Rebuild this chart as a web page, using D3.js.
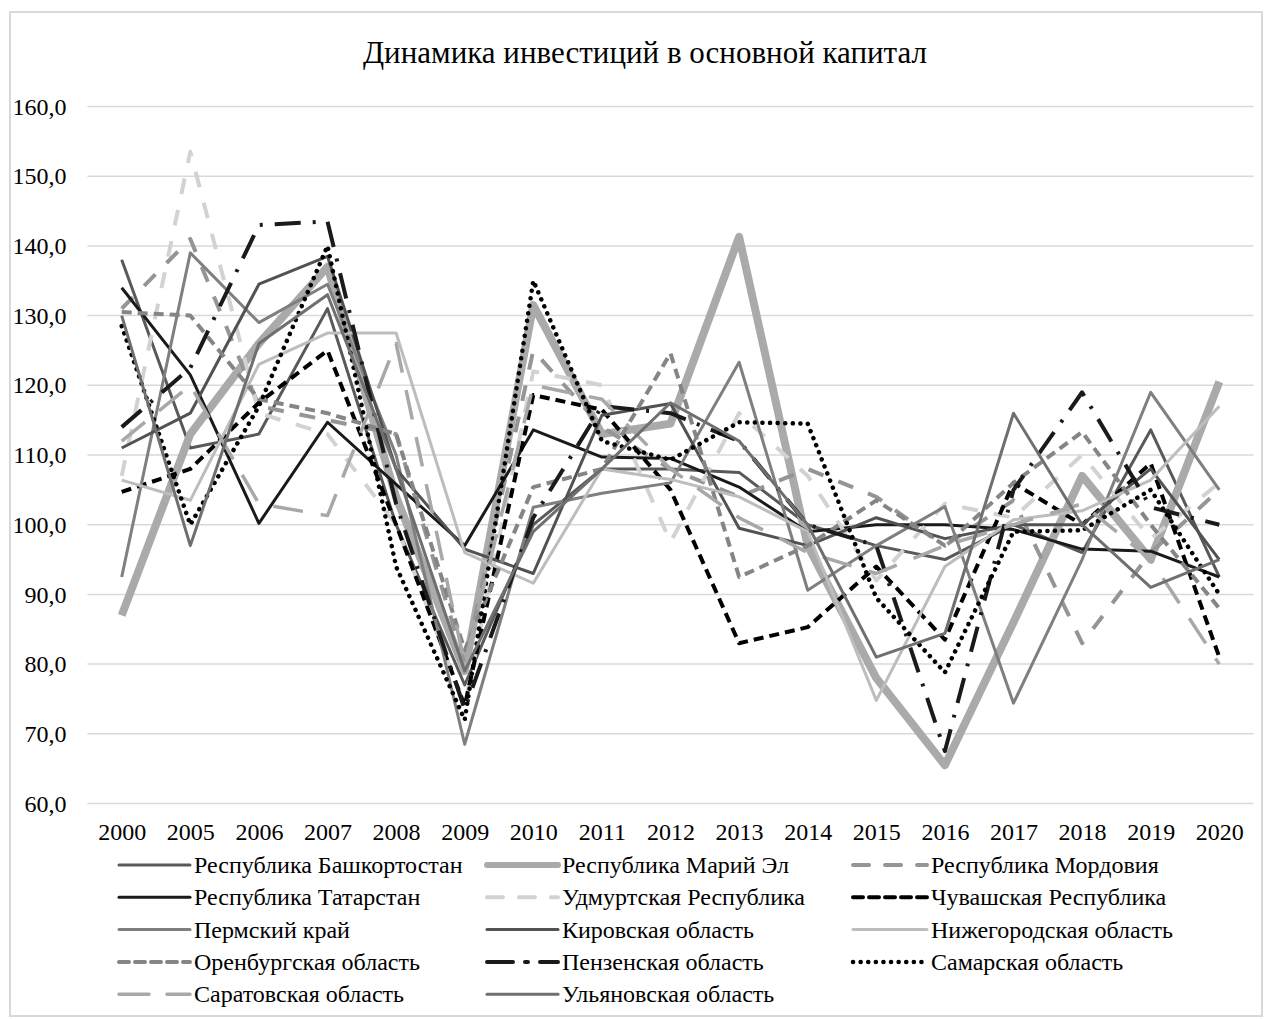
<!DOCTYPE html>
<html>
<head>
<meta charset="utf-8">
<script src="https://cdn.jsdelivr.net/npm/d3@7"></script>
<style>
  body { margin: 0; background: #fff; }
  svg text { font-family: "Liberation Serif", "Times New Roman", serif; fill: #000; }
</style>
</head>
<body>
<svg id="chart"></svg>
<script>
// years on the x axis
const years = ['2000','2005','2006','2007','2008','2009','2010','2011','2012','2013','2014','2015','2016','2017','2018','2019','2020'];
const yTicks = [60, 70, 80, 90, 100, 110, 120, 130, 140, 150, 160];

// values (per cent to previous year)
const bashkortostan = [138, 111, 113, 131, 100, 77, 100, 108, 108, 107.5, 100, 97, 95, 100, 96, 113.6, 92.5];
const mariiEl       = [87, 113, 126, 137, 104, 79, 131.5, 113, 114.5, 141.3, 97, 78, 65.5, 86, 107, 95, 120.5];
const mordovia      = [131, 141, 117, 115, 113, 80, 125, 114, 108, 104, 108, 104, 97, 103.5, 83, 96, 105];
const tatarstan     = [134, 121.5, 100.2, 114.7, 105.8, 97, 113.6, 109.7, 109.5, 105.4, 99, 100, 100, 99.3, 96.5, 96.2, 92.5];
const udmurtia      = [107, 153.5, 116, 113, 100, 74, 122, 120, 97.5, 116, 107, 92, 103, 101, 110, 98, 106];
const chuvashia     = [104.7, 108, 117.5, 125, 100, 74, 118.6, 116.5, 105, 83, 85.3, 94, 83.5, 106, 100, 108.8, 81];
const perm          = [92.5, 139, 129, 134.5, 110, 68.5, 102.5, 104.5, 106, 123.3, 90.6, 97, 102.6, 74.4, 95, 119, 105];
const kirov         = [111, 116, 134.5, 138.5, 108, 96.5, 93, 115.7, 117.4, 99.5, 97, 101, 98, 100, 100, 108, 95];
const nizhny        = [106.4, 103.5, 123, 127.5, 127.5, 96, 91.6, 108, 106.5, 104, 99, 74.8, 94, 100.7, 102, 106.4, 117];
const orenburg      = [130.5, 130, 118, 116, 113, 82, 105.4, 108, 124.6, 92.5, 97, 103.5, 97, 106, 113.3, 100, 88];
const penza         = [114, 122.5, 143, 143.5, 103, 73.5, 101, 117, 116, 112, 100, 97, 67.5, 105, 119, 102.5, 100];
const samara        = [128.5, 100, 117, 140, 94, 72, 135, 112, 109.3, 114.7, 114.5, 89.5, 78.8, 99, 99.2, 105, 90];
const saratov       = [112, 120, 103, 101.3, 126, 80, 120, 118, 108, 101, 96, 93, 97, 100, 103, 95, 80];
const ulyanovsk     = [130, 97, 126, 133, 108, 79, 99, 108, 117.5, 112, 100, 81, 84.4, 116, 100, 91, 95];

const series = [
  { name: 'Республика Башкортостан', values: bashkortostan, color: '#595959', width: 3, dash: null },
  { name: 'Республика Марий Эл', values: mariiEl, color: '#aaaaaa', width: 8, dash: null },
  { name: 'Республика Мордовия', values: mordovia, color: '#959595', width: 4, dash: '16,16' },
  { name: 'Республика Татарстан', values: tatarstan, color: '#1a1a1a', width: 3, dash: null },
  { name: 'Удмуртская Республика', values: udmurtia, color: '#d2d2d2', width: 4, dash: '16,16' },
  { name: 'Чувашская Республика', values: chuvashia, color: '#000000', width: 4, dash: '10,6' },
  { name: 'Пермский край', values: perm, color: '#7f7f7f', width: 3, dash: null },
  { name: 'Кировская область', values: kirov, color: '#525252', width: 3, dash: null },
  { name: 'Нижегородская область', values: nizhny, color: '#bdbdbd', width: 3, dash: null },
  { name: 'Оренбургская область', values: orenburg, color: '#858585', width: 4, dash: '10,6' },
  { name: 'Пензенская область', values: penza, color: '#1a1a1a', width: 4, dash: '26,12,3,12' },
  { name: 'Самарская область', values: samara, color: '#000000', width: 4.5, dash: '0.1,7.5', cap: 'round' },
  { name: 'Саратовская область', values: saratov, color: '#a8a8a8', width: 3.5, dash: '30,18' },
  { name: 'Ульяновская область', values: ulyanovsk, color: '#6f6f6f', width: 3, dash: null }
];

const width = 1265, height = 1019;
const margin = { top: 106.5, right: 11.4, bottom: 215.5, left: 87.4 };

const svg = d3.select('#chart')
  .attr('width', width)
  .attr('height', height);

// outer frame
svg.append('rect')
  .attr('x', 10).attr('y', 12)
  .attr('width', 1252).attr('height', 1004)
  .attr('fill', '#fff')
  .attr('stroke', '#d9d9d9')
  .attr('stroke-width', 2);

const x = d3.scalePoint()
  .domain(years)
  .range([margin.left, width - margin.right])
  .padding(0.5);

const y = d3.scaleLinear()
  .domain([60, 160])
  .range([height - margin.bottom, margin.top]);

// title
svg.append('text')
  .attr('x', 645)
  .attr('y', 63)
  .attr('text-anchor', 'middle')
  .style('font-size', '31px')
  .text('Динамика инвестиций в основной капитал');

// grid
svg.append('g')
  .selectAll('line')
  .data(yTicks)
  .join('line')
  .attr('x1', margin.left)
  .attr('x2', width - margin.right)
  .attr('y1', d => y(d))
  .attr('y2', d => y(d))
  .attr('stroke', '#d9d9d9')
  .attr('stroke-width', 1.5);

// y axis labels
const yAxis = svg.append('g')
  .attr('transform', `translate(${margin.left},0)`)
  .call(d3.axisLeft(y).tickValues(yTicks).tickSize(0).tickPadding(21)
    .tickFormat(d => d.toFixed(1).replace('.', ',')));
yAxis.select('.domain').remove();
yAxis.selectAll('text')
  .style('font-family', '"Liberation Serif", serif')
  .style('font-size', '24px')
  .attr('fill', '#000');

// x axis labels
const xAxis = svg.append('g')
  .attr('transform', `translate(0,${y(60)})`)
  .call(d3.axisBottom(x).tickSize(0).tickPadding(19));
xAxis.select('.domain').remove();
xAxis.selectAll('text')
  .style('font-family', '"Liberation Serif", serif')
  .style('font-size', '24px')
  .attr('fill', '#000');

// lines
const line = d3.line()
  .x((d, i) => x(years[i]))
  .y(d => y(d));

svg.append('g')
  .selectAll('path')
  .data(series)
  .join('path')
  .attr('d', d => line(d.values))
  .attr('fill', 'none')
  .attr('stroke', d => d.color)
  .attr('stroke-width', d => d.width)
  .attr('stroke-dasharray', d => d.dash)
  .attr('stroke-linecap', d => d.cap || 'butt')
  .attr('stroke-linejoin', 'round');

// legend, 3 columns
const legCols = [
  { lx: 119, tx: 194 },
  { lx: 487, tx: 562 },
  { lx: 853, tx: 931 }
];
const legend = svg.append('g')
  .selectAll('g')
  .data(series)
  .join('g')
  .attr('transform', (d, i) => `translate(0,${865 + Math.floor(i / 3) * 32.3})`);

legend.append('line')
  .attr('x1', (d, i) => legCols[i % 3].lx)
  .attr('x2', (d, i) => legCols[i % 3].tx - 4)
  .attr('y1', 0).attr('y2', 0)
  .attr('stroke', d => d.color)
  .attr('stroke-width', d => Math.min(d.width, 6))
  .attr('stroke-dasharray', d => d.dash)
  .attr('stroke-linecap', d => d.cap || 'round');

legend.append('text')
  .attr('x', (d, i) => legCols[i % 3].tx)
  .attr('y', 8)
  .style('font-size', '24px')
  .text(d => d.name);
</script>
</body>
</html>
